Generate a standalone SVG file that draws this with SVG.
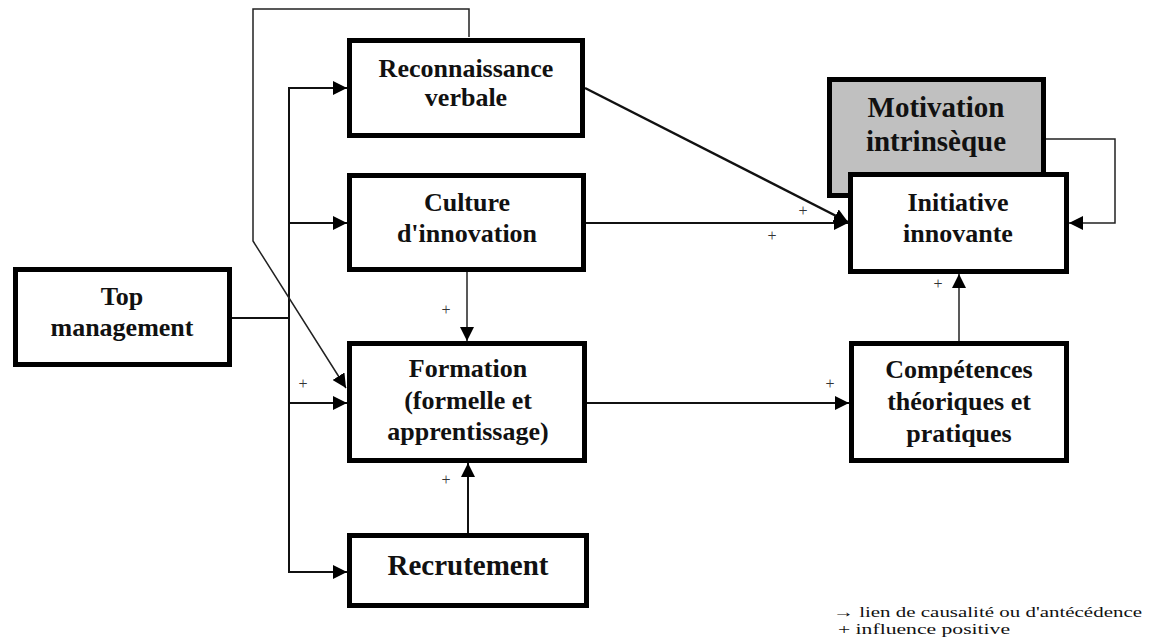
<svg xmlns="http://www.w3.org/2000/svg" width="1151" height="639" viewBox="0 0 1151 639">
  <style>
    .box { fill: #ffffff; stroke: #000000; stroke-width: 5; }
    .grey { fill: #c0c0c0; stroke: #000000; stroke-width: 5; }
    .lbl { font-family: "Liberation Serif", "Times New Roman", serif; font-weight: bold; font-size: 26px; fill: #111111; text-anchor: middle; }
    .big { font-size: 29px; }
    .c { fill: none; stroke: #111111; stroke-width: 2; }
    .thin { fill: none; stroke: #222222; stroke-width: 1.5; }
    .thick { fill: none; stroke: #111111; stroke-width: 2.5; }
    .plus { font-family: "Liberation Serif", "Times New Roman", serif; font-size: 16px; fill: #333333; text-anchor: middle; }
    .legend { font-family: "Liberation Serif", "Times New Roman", serif; font-size: 15px; fill: #111111; }
  </style>
  <defs>
    <marker id="arr" markerUnits="userSpaceOnUse" markerWidth="14" markerHeight="14" viewBox="0 0 14 14" refX="14" refY="7" orient="auto">
      <path d="M0,0 L14,7 L0,14 z" fill="#000000"/>
    </marker>
  </defs>

  <g id="connectors">
    <line class="c" x1="232" y1="318" x2="289" y2="318"/>
    <line class="c" x1="289" y1="87" x2="289" y2="573"/>
    <line class="c" x1="288" y1="88" x2="347" y2="88" marker-end="url(#arr)"/>
    <line class="c" x1="288" y1="223" x2="347" y2="223" marker-end="url(#arr)"/>
    <line class="c" x1="288" y1="403" x2="347" y2="403" marker-end="url(#arr)"/>
    <line class="c" x1="288" y1="572" x2="347" y2="572" marker-end="url(#arr)"/>
    <polyline class="thin" points="469,37 469,9 253,9 253,241 346,388" marker-end="url(#arr)"/>
    <line class="thick" x1="585" y1="88" x2="848" y2="222" marker-end="url(#arr)"/>
    <line class="c" x1="586" y1="223" x2="848" y2="223" marker-end="url(#arr)"/>
    <polyline class="thin" points="1046,139 1115,139 1115,223 1069,223" marker-end="url(#arr)"/>
    <line class="thin" x1="467" y1="272" x2="467" y2="341" marker-end="url(#arr)"/>
    <line class="c" x1="468" y1="533" x2="468" y2="463" marker-end="url(#arr)"/>
    <line class="c" x1="587" y1="403" x2="849" y2="403" marker-end="url(#arr)"/>
    <line class="thin" x1="959" y1="341" x2="959" y2="274" marker-end="url(#arr)"/>
  </g>

  <g id="plus-signs">
    <text class="plus" x="303" y="389">+</text>
    <text class="plus" x="446" y="315">+</text>
    <text class="plus" x="446" y="485">+</text>
    <text class="plus" x="803" y="216">+</text>
    <text class="plus" x="772" y="241">+</text>
    <text class="plus" x="830" y="389">+</text>
    <text class="plus" x="938" y="289">+</text>
  </g>

  <g id="top-management">
    <rect class="box" x="15.5" y="269.5" width="214" height="95"/>
    <text class="lbl" x="122" y="305">Top</text>
    <text class="lbl" x="122" y="336">management</text>
  </g>

  <g id="reconnaissance-verbale">
    <rect class="box" x="349.5" y="40.5" width="233" height="95"/>
    <text class="lbl" x="466" y="77">Reconnaissance</text>
    <text class="lbl" x="466" y="106">verbale</text>
  </g>

  <g id="culture-innovation">
    <rect class="box" x="349.5" y="175.5" width="234" height="94"/>
    <text class="lbl" x="467" y="211">Culture</text>
    <text class="lbl" x="467" y="242">d'innovation</text>
  </g>

  <g id="formation">
    <rect class="box" x="349.5" y="343.5" width="235" height="117"/>
    <text class="lbl" x="468" y="377">Formation</text>
    <text class="lbl" x="468" y="409">(formelle et</text>
    <text class="lbl" x="468" y="440">apprentissage)</text>
  </g>

  <g id="recrutement">
    <rect class="box" x="349.5" y="535.5" width="237" height="70"/>
    <text class="lbl big" x="468" y="575">Recrutement</text>
  </g>

  <g id="motivation-intrinseque">
    <rect class="grey" x="829.5" y="79.5" width="214" height="116"/>
    <text class="lbl big" x="936" y="117">Motivation</text>
    <text class="lbl big" x="936" y="151">intrinsèque</text>
  </g>

  <g id="initiative-innovante">
    <rect class="box" x="850.5" y="174.5" width="216" height="97"/>
    <text class="lbl" x="958" y="211">Initiative</text>
    <text class="lbl" x="958" y="242">innovante</text>
  </g>

  <g id="competences">
    <rect class="box" x="851.5" y="343.5" width="215" height="117"/>
    <text class="lbl" x="959" y="378">Compétences</text>
    <text class="lbl" x="959" y="410">théoriques et</text>
    <text class="lbl" x="959" y="442">pratiques</text>
  </g>

  <g id="legend">
    <text class="legend" x="833" y="617" textLength="309" lengthAdjust="spacingAndGlyphs">→ lien de causalité ou d'antécédence</text>
    <text class="legend" x="838" y="634" textLength="172" lengthAdjust="spacingAndGlyphs">+ influence positive</text>
  </g>
</svg>
